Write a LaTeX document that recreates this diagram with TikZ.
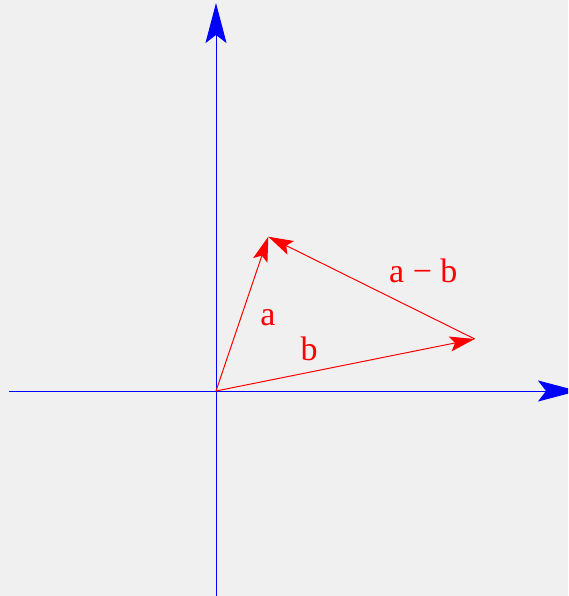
\documentclass[tikz,border=0pt]{standalone}
\usepackage{fontspec}
\setmainfont{Liberation Serif}
\usetikzlibrary{arrows.meta}
\definecolor{bg}{HTML}{F0F0F0}
\begin{document}
\begin{tikzpicture}[x=1pt,y=-1pt,
  axis/.style={blue, line width=1pt, -{Stealth[length=40pt,width=21pt,inset=8pt]}},
  vec/.style={red, line width=1pt, -{Stealth[length=25pt,width=15pt,inset=5pt]}},
  lbl/.style={red, font=\fontsize{34}{40}\selectfont, anchor=base, inner sep=0pt}]
\useasboundingbox (0,0) rectangle (568,596);
\clip (0,0) rectangle (568,596);
\fill[bg] (0,0) rectangle (568,596);
\coordinate (xl) at (9,391);
\coordinate (xr) at (578,391);
\coordinate (yb) at (216,600);
\coordinate (yt) at (216,3);
\coordinate (O) at (216,391);
\coordinate (A) at (268.3,236.7);
\coordinate (B) at (474.7,339);
\draw[axis] (xl) -- (xr);
\draw[axis] (yb) -- (yt);
\draw[vec] (O) -- (A);
\draw[vec] (O) -- (B);
\draw[vec] (B) -- (A);
\node[lbl] (la) at (268,325) {a};
\node[lbl] (lb) at (309,360) {b};
\node[lbl] (lab) at (423.3,282) {a − b};
\end{tikzpicture}
\end{document}
